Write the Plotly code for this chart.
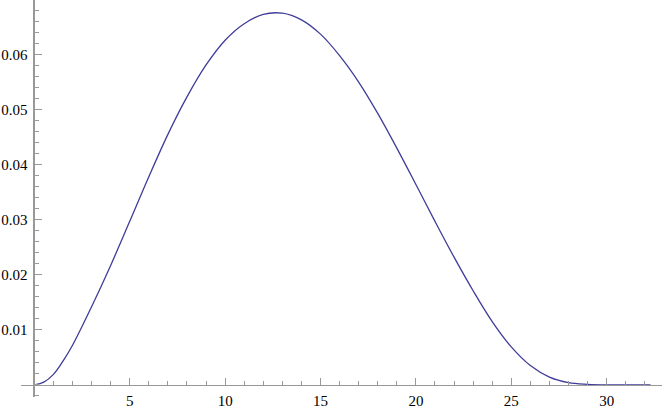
import plotly.graph_objects as go

# values
x_vals = [0, 0.5, 1, 1.5, 2, 3, 4, 5, 6, 7, 8, 9, 10, 11, 12, 13, 14, 15,
          16, 17, 18, 19, 20, 21, 22, 23, 24, 25, 26, 27, 28, 29, 30, 31, 32.3]
y_vals = [0, 0.0005, 0.0019, 0.0043, 0.0072, 0.0142, 0.0217, 0.0297, 0.0378,
          0.0455, 0.0523, 0.0581, 0.0626, 0.0656, 0.0673, 0.0675, 0.0663,
          0.0637, 0.0598, 0.0550, 0.0493, 0.0430, 0.0364, 0.0297, 0.0232, 0.0171,
          0.0115, 0.0069, 0.0035, 0.0014, 0.0004, 0.0001, 0, 0, 0]

x_ticks = [5, 10, 15, 20, 25, 30]
y_ticks = [0.01, 0.02, 0.03, 0.04, 0.05, 0.06]

x_range = [-0.7, 32.9]
y_range = [-0.0022, 0.0699]

axis_color = "#999999"
font = dict(family="Liberation Serif", size=15, color="black")

fig = go.Figure(go.Scatter(
    x=x_vals, y=y_vals, mode="lines",
    line=dict(color="#3f3d99", width=1.3, shape="spline", smoothing=1.0),
    hoverinfo="skip",
))

# axes cross at (0, 0) like Mathematica's default
x_pos = (0 - y_range[0]) / (y_range[1] - y_range[0])
y_pos = (0 - x_range[0]) / (x_range[1] - x_range[0])

fig.update_xaxes(
    range=x_range, showgrid=False, zeroline=False,
    anchor="free", position=x_pos, side="bottom",
    showline=True, linecolor=axis_color, linewidth=1,
    tickmode="array", tickvals=x_ticks,
    ticks="inside", ticklen=7, tickcolor=axis_color, tickwidth=1,
    minor=dict(dtick=1, tick0=0, ticks="inside", ticklen=4, tickcolor=axis_color),
    tickfont=font, automargin=False, ticklabelstandoff=2,
)
fig.update_yaxes(
    range=y_range, showgrid=False, zeroline=False,
    anchor="free", position=y_pos, side="left",
    showline=True, linecolor=axis_color, linewidth=1.5,
    tickmode="array", tickvals=y_ticks,
    ticks="inside", ticklen=7, tickcolor=axis_color, tickwidth=1,
    minor=dict(dtick=0.002, tick0=0, ticks="inside", ticklen=4, tickcolor=axis_color),
    tickfont=font, automargin=False, ticklabelstandoff=3,
)

fig.update_layout(
    width=664, height=410,
    margin=dict(l=21, r=2, t=0, b=13),
    font=font,
    plot_bgcolor="white", paper_bgcolor="white",
    showlegend=False,
)

# drop the page's default body margin so the figure sits at the window corner
fig.write_html(
    "out.html",
    config={"displayModeBar": False},
    post_script="document.body.style.margin = '0';",
)
